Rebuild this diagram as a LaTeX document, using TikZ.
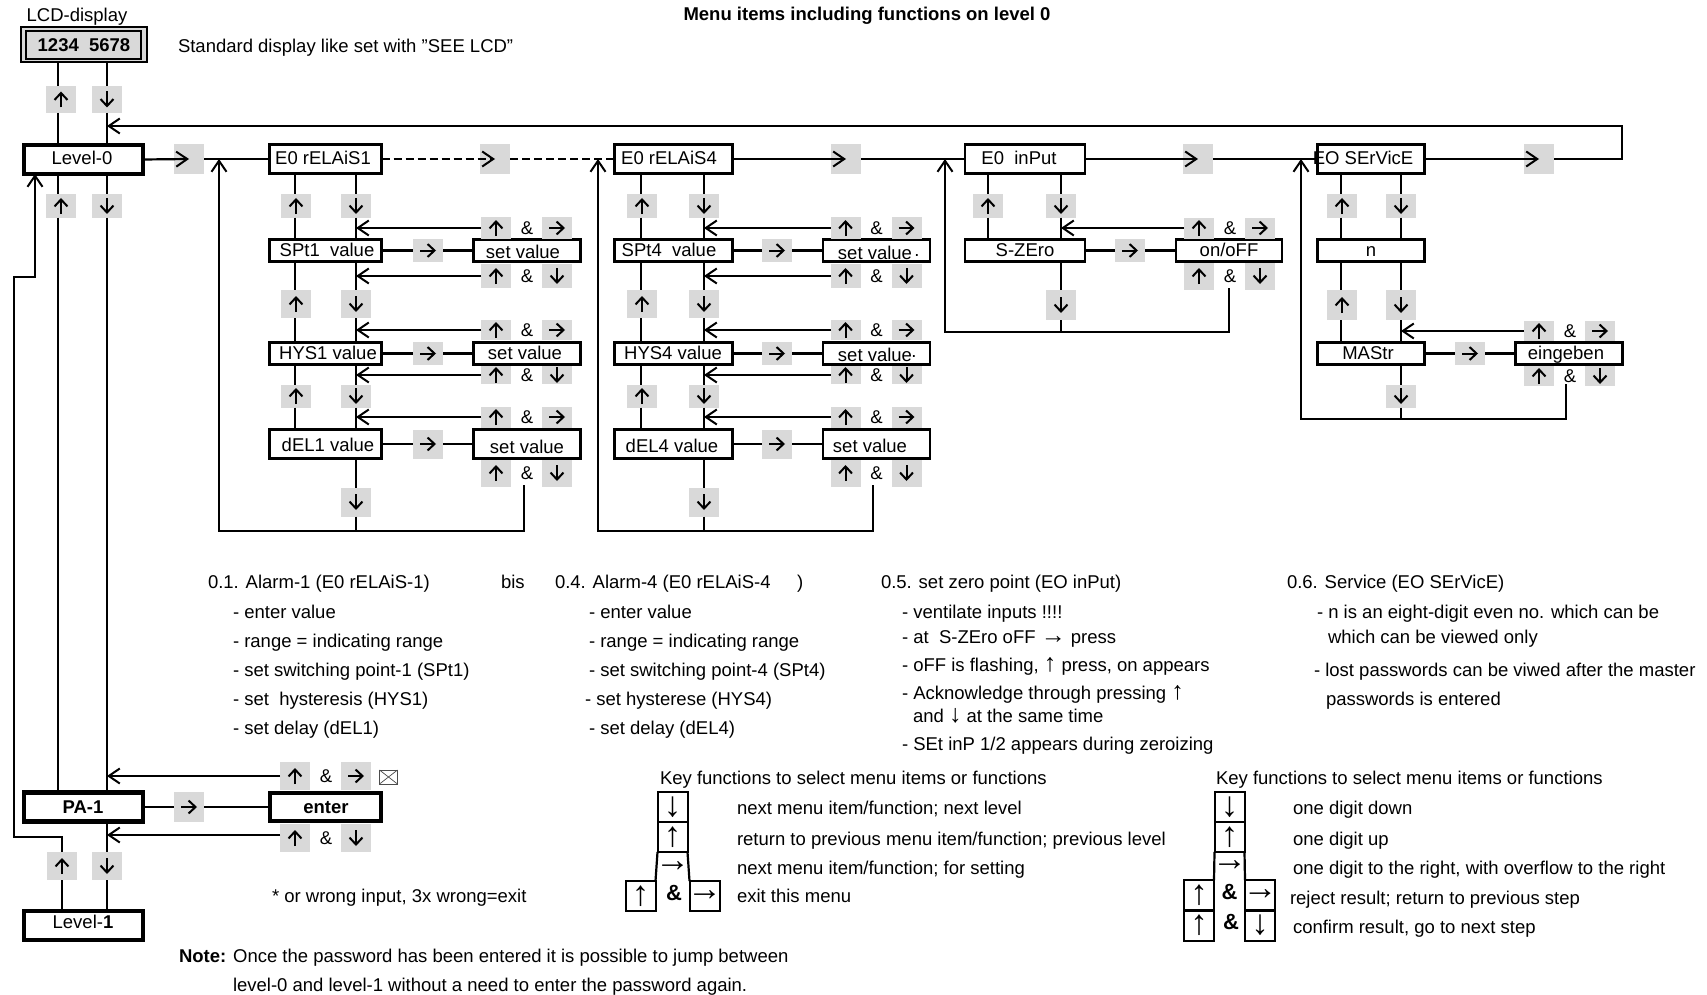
\documentclass[tikz,border=0pt]{standalone}
\usepackage{fontspec}
\setmainfont{Liberation Sans}
\usetikzlibrary{arrows.meta,calc}
\definecolor{chipgray}{gray}{0.85}
\newcommand{\inarrow}[1]{{\fontsize{25}{20}\selectfont #1}}
\tikzset{
  wire/.style={line width=2.2pt,line cap=butt},
  thinwire/.style={line width=1.5pt},
  tipped/.style={-{Straight Barb[length=11pt,width=15pt,line width=2pt]}},
  keyarrow/.style={line width=2pt,-{Straight Barb[length=7pt,width=13pt,line width=2pt]}},
  chip/.style={fill=chipgray,draw=none,inner sep=0pt,outer sep=0pt,minimum width=30pt},
  menubox/.style={draw=black,fill=white,line width=2.2pt,inner sep=0pt,outer sep=0pt},
  levelbox/.style={menubox,line width=4.5pt},
  txt/.style={anchor=base west,inner sep=0pt,outer sep=0pt,font=\fontsize{18.5}{20}\selectfont},
  lbl/.style={anchor=base,inner sep=0pt,outer sep=0pt,font=\fontsize{18.5}{20}\selectfont},
  keycell/.style={draw=black,line width=2pt,inner sep=0pt,outer sep=0pt,minimum width=30pt,minimum height=30pt},
  glyph/.style={inner sep=0pt,outer sep=0pt,font=\fontsize{35}{35}\selectfont},
  freecell/.style={inner sep=0pt,outer sep=0pt,minimum width=30pt,minimum height=30pt,font=\fontsize{22}{22}\selectfont\bfseries},
}
% key chips: name, x, y, height
\newcommand{\keyU}[4]{\node[chip,minimum height=#4pt] (#1) at (#2,#3) {};
  \draw[keyarrow] ($(#1)+(0,8)$) -- ($(#1)+(0,-8)$);}
\newcommand{\keyD}[4]{\node[chip,minimum height=#4pt] (#1) at (#2,#3) {};
  \draw[keyarrow] ($(#1)+(0,-8)$) -- ($(#1)+(0,8)$);}
\newcommand{\keyR}[4]{\node[chip,minimum height=#4pt] (#1) at (#2,#3) {};
  \draw[keyarrow] ($(#1)+(-8,0)$) -- ($(#1)+(8,0)$);}
\newcommand{\keyBlank}[4]{\node[chip,minimum height=#4pt] (#1) at (#2,#3) {};}
% key combination: name, centre x, y, height, macro for the second key
\newcommand{\combo}[5]{\keyU{#1u}{#2-31}{#3}{#4}
  \node[lbl] (#1a) at (#2,#3+6) {\&};
  #5{#1k}{#2+30}{#3}{#4}}
\newcommand{\tl}[4]{\node[txt] (#1) at (#2,#3+6) {#4};}
\newcommand{\cl}[4]{\node[lbl] (#1) at (#2,#3+7) {#4};}
\newcommand{\mb}[5]{\node[menubox,minimum width=#4pt,minimum height=#5pt] (#1) at (#2,#3) {};}
% key table cell: name, x, y, glyph; the arrow glyph sits at the middle of the cell
\newcommand{\kc}[4]{\node[keycell] (#1) at (#2,#3) {};
  \node[glyph] (#1g) at (#2,#3) {#4};}
% alarm column: prefix, box cx, box w, up lane, down lane, set cx, mid chip x
\newcommand{\alarmcol}[7]{
  \coordinate (#1up) at (#4,0); \coordinate (#1dn) at (#5,0);
  \mb{#1e}{#2}{159}{#3}{29}
  \mb{#1s}{#2}{250.5}{#3}{22}
  \mb{#1h}{#2}{353.5}{#3}{22}
  \mb{#1l}{#2}{444}{#3}{29}
  \mb{#1ss}{#6}{250.5}{107}{22}
  \mb{#1sh}{#6}{353.5}{107}{22}
  \mb{#1sl}{#6}{444}{107}{29}
  \keyU{#1a1}{#4+1}{206}{23}\keyD{#1a2}{#5}{206}{23}
  \keyU{#1b1}{#4+1}{304}{28}\keyD{#1b2}{#5}{304}{28}
  \keyU{#1c1}{#4+1}{396}{23}\keyD{#1c2}{#5}{396}{23}
  \keyD{#1d2}{#5}{502}{29}
  \keyR{#1m1}{#7}{250.5}{23}\keyR{#1m2}{#7}{353.5}{23}\keyR{#1m3}{#7}{444}{29}
  \combo{#1r1}{#6}{228}{22}{\keyR}
  \combo{#1r2}{#6}{276}{24}{\keyD}
  \combo{#1r3}{#6}{330}{20}{\keyR}
  \combo{#1r4}{#6}{375}{18}{\keyD}
  \combo{#1r5}{#6}{417}{21}{\keyR}
  \combo{#1r6}{#6}{473}{27}{\keyD}
  \foreach \r/\a/\b in {a1/e/s,b1/s/h,c1/h/l}{
    \draw[wire] (#1\a.south -| #1up) -- (#1\r.north -| #1up);
    \draw[wire] (#1\r.south -| #1up) -- (#1\b.north -| #1up);}
  \foreach \r/\a/\b in {a2/e/s,b2/s/h,c2/h/l}{
    \draw[wire] (#1\a.south -| #1dn) -- (#1\r.north -| #1dn);
    \draw[wire] (#1\r.south -| #1dn) -- (#1\b.north -| #1dn);}
  \draw[wire] (#1l.south -| #1dn) -- (#1d2.north -| #1dn);
  \draw[wire] (#1s.east) -- (#1m1.west); \draw[wire] (#1m1.east) -- (#1ss.west);
  \draw[wire] (#1h.east) -- (#1m2.west); \draw[wire] (#1m2.east) -- (#1sh.west);
  \draw[wire] (#1l.east) -- (#1m3.west); \draw[wire] (#1m3.east) -- (#1sl.west);
  \foreach \r in {r1,r2,r3,r5}{\draw[wire,tipped] (#1\r u.west) -- (#1\r u.west -| #1dn);}
  \draw[thinwire,tipped] (#1r4u.west) -- (#1r4u.west -| #1dn);
}
\begin{document}
\begin{tikzpicture}[x=1pt,y=-1pt]
\useasboundingbox (0,0) rectangle (1707,995);
\fill[white] (0,0) rectangle (1707,995);

% lanes and joints
\coordinate (L58) at (58,0);
\coordinate (L107) at (107,0);
\coordinate (L62) at (62,0);
\coordinate (L35) at (35,0);
\coordinate (J1a) at (14,837);
\coordinate (J1b) at (14,277);
\coordinate (J1c) at (35,277);
\coordinate (Rtop) at (1622,126);
\coordinate (Rrow) at (1622,159);
\coordinate (Rtip) at (107,126);
\coordinate (A1top) at (219,159);
\coordinate (A1bot) at (219,531);
\coordinate (A1end) at (524,531);
\coordinate (A4top) at (598,159);
\coordinate (A4bot) at (598,531);
\coordinate (A4end) at (873,531);
\coordinate (B5top) at (945,159);
\coordinate (B5bot) at (945,332);
\coordinate (B5end) at (1229,332);
\coordinate (B6top) at (1301,159);
\coordinate (B6bot) at (1301,419);
\coordinate (B6end) at (1566,419);
\coordinate (U5) at (988,0);
\coordinate (D5) at (1061,0);
\coordinate (U6) at (1341,0);
\coordinate (D6) at (1401,0);

% title and LCD display
\cl{title}{867}{14}{\textbf{Menu items including functions on level 0}}
\cl{lcdcap}{77}{15}{LCD-display}
\node[draw=black,fill=chipgray,line width=2pt,minimum width=126pt,minimum height=35pt,inner sep=0pt,outer sep=0pt] (lcdo) at (83.5,45) {};
\node[draw=black,fill=chipgray,line width=2pt,minimum width=115pt,minimum height=28pt,inner sep=0pt,outer sep=0pt] (lcd) at (83.5,45) {};
\cl{lcdt}{84}{45}{\textbf{1234\ \ 5678}}
\tl{stdt}{178}{47}{Standard display like set with "SEE LCD"}

% level column boxes
\node[levelbox,minimum width=119pt,minimum height=29pt] (lev0) at (83.5,159.5) {};
\cl{lev0t}{82}{158}{Level-0}
\node[levelbox,minimum width=119pt,minimum height=29pt] (pa) at (83.5,807) {};
\cl{pat}{83}{806}{\textbf{PA-1}}
\node[levelbox,minimum width=111pt,minimum height=28pt] (ent) at (325.5,807) {};
\cl{entt}{326}{806}{\textbf{enter}}
\node[levelbox,minimum width=119pt,minimum height=29pt] (lev1) at (83.5,925.5) {};
\cl{lev1t}{83}{921}{Level-\textbf{1}}

% level column keys
\keyU{kA}{61}{99.5}{27}\keyD{kB}{107}{99.5}{27}
\keyU{kC}{61}{206}{23}\keyD{kD}{107}{206}{23}
\keyU{kE}{62}{866}{28}\keyD{kF}{107}{866}{28}
\keyBlank{kRow0}{189}{159}{30}
\keyR{kPA}{189}{807}{30}
\combo{pu}{326}{776}{28}{\keyR}
\combo{pd}{326}{838}{28}{\keyD}
\node[draw=black!70,line width=0.8pt,fill=white,minimum width=18pt,minimum height=14pt,inner sep=0pt,outer sep=0pt] (env) at (388.5,777) {};
\draw[black!70,line width=0.7pt] (env.north west) -- (env.center) -- (env.north east) (env.south west) -- (env.center) -- (env.south east);

% level column wires
\draw[wire] (lcdo.south -| L58) -- (kA.north -| L58);
\draw[wire] (kA.south -| L58) -- (lev0.north -| L58);
\draw[wire] (lcdo.south -| L107) -- (kB.north -| L107);
\draw[wire] (kB.south -| L107) -- (lev0.north -| L107);
\draw[wire] (lev0.south -| L58) -- (kC.north -| L58);
\draw[wire] (kC.south -| L58) -- (pa.north -| L58);
\draw[wire] (lev0.south -| L107) -- (kD.north -| L107);
\draw[wire] (kD.south -| L107) -- (pa.north -| L107);
\draw[wire] (pa.south -| L107) -- (kF.north -| L107);
\draw[wire] (kF.south -| L107) -- (lev1.north -| L107);
\draw[wire] (lev1.north -| L62) -- (kE.south -| L62);
\draw[wire,tipped] (kE.north -| L62) -- (J1a -| L62) -- (J1a) -- (J1b) -- (J1c) -- (lev0.south -| L35);
\draw[wire] (pa.east) -- (kPA.west); \draw[wire] (kPA.east) -- (ent.west);
\draw[wire,tipped] (puu.west) -- (puu.west -| L107);
\draw[wire,tipped] ([yshift=3pt]pdu.west) -- ([yshift=3pt]pdu.west -| L107);

% alarm columns
\alarmcol{a}{325.5}{112}{295}{356}{527}{428}
\alarmcol{b}{673.5}{118}{641}{704}{876.5}{777}
\cl{aet}{323}{158}{E0 rELAiS1}
\cl{ast}{327}{249}{SPt1\ \ value}
\cl{aht}{328}{352}{HYS1 value}
\cl{alt}{328}{444}{dEL1 value}
\cl{asst}{523}{251}{set value}
\cl{asht}{525}{352}{set value}
\cl{aslt}{527}{446}{set value}
\cl{bet}{669}{158}{E0 rELAiS4}
\cl{bst}{669}{249}{SPt4\ \ value}
\cl{bht}{673}{352}{HYS4 value}
\cl{blt}{672}{445}{dEL4 value}
\cl{bsst}{875}{252}{set value}
\cl{bsht}{875}{354}{set value}
\cl{bslt}{870}{445}{set value}
\cl{bdot1}{917}{249}{.}
\cl{bdot2}{914}{350}{.}

% zero point column
\mb{ce}{1025}{159}{120}{29}
\mb{cs}{1025}{250.5}{120}{22}
\mb{css}{1229}{250.5}{106}{22}
\cl{cet}{1019}{158}{E0\ \ inPut}
\cl{cst}{1025}{249}{S-ZEro}
\cl{csst}{1229}{249}{on/oFF}
\keyU{ca1}{988}{206}{23}\keyD{ca2}{1061}{206}{23}
\keyD{cd2}{1061}{305}{30}
\keyR{cm1}{1130}{250.5}{23}
\combo{cr1}{1230}{228}{21}{\keyR}
\combo{cr2}{1230}{276}{27}{\keyD}
\draw[wire] (ce.south -| U5) -- (ca1.north -| U5);
\draw[wire] (ca1.south -| U5) -- (cs.north -| U5);
\draw[wire] (ce.south -| D5) -- (ca2.north -| D5);
\draw[wire] (ca2.south -| D5) -- (cs.north -| D5);
\draw[wire] (cs.south -| D5) -- (cd2.north -| D5);
\draw[wire] (cd2.south -| D5) -- (B5bot -| D5);
\draw[wire] (cs.east) -- (cm1.west); \draw[wire] (cm1.east) -- (css.west);
\draw[wire,tipped] (cr1u.west) -- (cr1u.west -| D5);

% service column
\mb{de}{1371}{159}{107}{29}
\mb{dn}{1371}{250.5}{107}{22}
\mb{dm}{1371}{353.5}{107}{22}
\mb{ds}{1569}{353.5}{107}{22}
\cl{det}{1363}{158}{EO SErVicE}
\cl{dnt}{1371}{249}{n}
\cl{dmt}{1368}{352}{MAStr}
\cl{dst}{1566}{352}{eingeben}
\keyU{da1}{1342}{206}{23}\keyD{da2}{1401}{206}{23}
\keyU{db1}{1342}{305}{30}\keyD{db2}{1401}{305}{30}
\keyD{dd2}{1401}{396}{23}
\keyR{dm1}{1470}{353.5}{23}
\combo{dr1}{1570}{331}{20}{\keyR}
\combo{dr2}{1570}{376}{20}{\keyD}
\draw[wire] (de.south -| U6) -- (da1.north -| U6);
\draw[wire] (da1.south -| U6) -- (dn.north -| U6);
\draw[wire] (de.south -| D6) -- (da2.north -| D6);
\draw[wire] (da2.south -| D6) -- (dn.north -| D6);
\draw[wire] (dn.south -| U6) -- (db1.north -| U6);
\draw[wire] (db1.south -| U6) -- (dm.north -| U6);
\draw[wire] (dn.south -| D6) -- (db2.north -| D6);
\draw[wire] (db2.south -| D6) -- (dm.north -| D6);
\draw[wire] (dm.south -| D6) -- (dd2.north -| D6);
\draw[wire] (dd2.south -| D6) -- (B6bot -| D6);
\draw[wire] (dm.east) -- (dm1.west); \draw[wire] (dm1.east) -- (ds.west);
\draw[wire,tipped] (dr1u.west) -- (dr1u.west -| D6);

% top row chips and wires
\keyBlank{t2}{495}{159}{30}
\keyBlank{t3}{846}{159}{30}
\keyBlank{t4}{1198}{159}{30}
\keyBlank{t5}{1539}{159}{30}
\draw[wire,tipped] (lev0.east) -- (kRow0.center);
\draw[wire] (kRow0.east) -- (ae.west);
\draw[wire,dash pattern=on 8pt off 4pt,tipped] (ae.east) -- (t2.center);
\draw[wire,dash pattern=on 8pt off 4pt] (t2.east) -- (be.west);
\draw[wire,tipped] (be.east) -- (t3.center);
\draw[wire] (t3.east) -- (ce.west);
\draw[wire,tipped] (ce.east) -- (t4.center);
\draw[wire] (t4.east) -- (de.west);
\draw[wire,tipped] (de.east) -- (t5.center);
\draw[wire,tipped] (t5.east) -- (Rrow) -- (Rtop) -- (Rtip);

% return wires
\draw[wire,tipped] ([yshift=-6pt]ar6a.south -| A1end) -- (A1end) -- (A1bot) -- (A1top);
\draw[wire] (ad2.south -| adn) -- (A1bot -| adn);
\draw[wire,tipped] ([yshift=-6pt]br6a.south -| A4end) -- (A4end) -- (A4bot) -- (A4top);
\draw[wire] (bd2.south -| bdn) -- (A4bot -| bdn);
\draw[wire,tipped] ([yshift=-6pt]cr2a.south -| B5end) -- (B5end) -- (B5bot) -- (B5top);
\draw[wire,tipped] ([yshift=-2pt]dr2a.south -| B6end) -- (B6end) -- (B6bot) -- (B6top);

% description texts
\tl{t11}{208}{582}{0.1. Alarm-1 (E0 rELAiS-1)}
\tl{tbis}{501}{582}{bis}
\tl{t12}{233}{612}{- enter value}
\tl{t13}{233}{641}{- range = indicating range}
\tl{t14}{233}{670}{- set switching point-1 (SPt1)}
\tl{t15}{233}{699}{- set\ \ hysteresis (HYS1)}
\tl{t16}{233}{728}{- set delay (dEL1)}
\tl{t21}{555}{582}{0.4. Alarm-4 (E0 rELAiS-4}
\tl{t2c}{797}{582}{)}
\tl{t22}{589}{612}{- enter value}
\tl{t23}{589}{641}{- range = indicating range}
\tl{t24}{589}{670}{- set switching point-4 (SPt4)}
\tl{t25}{585}{699}{- set hysterese (HYS4)}
\tl{t26}{589}{728}{- set delay (dEL4)}
\tl{t31}{881}{582}{0.5. set zero point (EO inPut)}
\tl{t32}{902}{612}{- ventilate inputs !!!!}
\tl{t33}{902}{637}{- at\ \ S-ZEro oFF \inarrow{→} press}
\tl{t34}{902}{665}{- oFF is flashing, \inarrow{↑} press, on appears}
\tl{t35}{902}{693}{- Acknowledge through pressing \inarrow{↑}}
\tl{t36}{913}{716}{and \inarrow{↓} at the same time}
\tl{t37}{902}{744}{- SEt inP 1/2 appears during zeroizing}
\tl{t41}{1287}{582}{0.6. Service (EO SErVicE)}
\tl{t42}{1317}{612}{- n is an eight-digit even no. which can be}
\tl{t43}{1328}{637}{which can be viewed only}
\tl{t44}{1314}{670}{- lost passwords can be viwed after the master}
\tl{t45}{1326}{699}{passwords is entered}
\tl{twrong}{272}{896}{* or wrong input, 3x wrong=exit}
\tl{tnote}{179}{956}{\textbf{Note:} Once the password has been entered it is possible to jump between}
\tl{tnote2}{233}{985}{level-0 and level-1 without a need to enter the password again.}

% key table 1
\tl{kt1}{660}{778}{Key functions to select menu items or functions}
\kc{k1d}{672.5}{807}{↓}
\kc{k1u}{672.5}{837}{↑}
\node[glyph] (k1r) at (672.5,866.5) {→};
\kc{k1ru}{640.5}{896}{↑}
\node[freecell] (k1ra) at (674,893) {\&};
\kc{k1rk}{704.5}{896}{→};
\draw[wire] (k1u.south west) -- (k1ru.north east);
\draw[wire] (k1u.south east) -- (k1rk.north west);
\tl{kd1}{737}{808}{next menu item/function; next level}
\tl{kd2}{737}{839}{return to previous menu item/function; previous level}
\tl{kd3}{737}{868}{next menu item/function; for setting}
\tl{kd4}{737}{896}{exit this menu}

% key table 2
\tl{kt2}{1216}{778}{Key functions to select menu items or functions}
\kc{m1d}{1229.5}{807}{↓}
\kc{m1u}{1229.5}{837}{↑}
\node[glyph] (m1r) at (1229.5,866) {→};
\kc{m2u}{1199}{895}{↑}
\node[freecell] (m2a) at (1229.5,892) {\&};
\kc{m2k}{1260}{895}{→}
\kc{m3u}{1199}{925.5}{↑}
\node[freecell] (m3a) at (1231,922) {\&};
\kc{m3k}{1260}{925.5}{↓}
\draw[wire] (m1u.south west) -- (m2u.north east);
\draw[wire] (m1u.south east) -- (m2k.north west);
\tl{md1}{1293}{808}{one digit down}
\tl{md2}{1293}{839}{one digit up}
\tl{md3}{1293}{868}{one digit to the right, with overflow to the right}
\tl{md4}{1290}{898}{reject result; return to previous step}
\tl{md5}{1293}{927}{confirm result, go to next step}
\end{tikzpicture}
\end{document}
